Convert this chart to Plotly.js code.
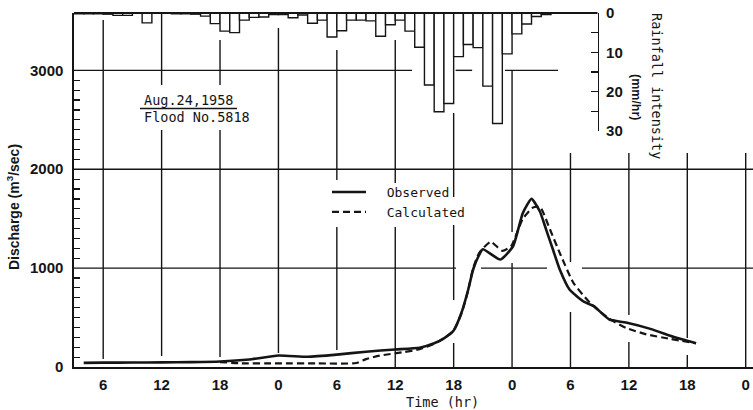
<!DOCTYPE html>
<html>
<head>
<meta charset="utf-8">
<script src="https://cdn.plot.ly/plotly-3.0.1.min.js"></script>
<style>html,body{margin:0;padding:0;background:#fff;}</style>
</head>
<body>
<div id="chart" style="width:753px;height:410px;"></div>
<script>
// ---- data (hours counted from 0 h of Aug.23) ----
const xTickHours = [6, 12, 18, 24, 30, 36, 42, 48, 54, 60, 66, 72];
const xTickLabels = ['6', '12', '18', '0', '6', '12', '18', '0', '6', '12', '18', '0'];
const yTickVals = [0, 1000, 2000, 3000];
const rainTickVals = [0, 10, 20, 30];

const rainHourStart = [3, 4, 5, 6, 7, 8, 9, 10, 11, 12, 13, 14, 15, 16, 17, 18, 19, 20, 21, 22, 23, 24, 25, 26, 27,
  28, 29, 30, 31, 32, 33, 34, 35, 36, 37, 38, 39, 40, 41, 42, 43, 44, 45, 46, 47, 48, 49, 50, 51];
const rainMm = [0.2, 0.2, 0.2, 0.3, 0.6, 0.6, 0.0, 2.5, 0.0, 0.0, 0.2, 0.2, 0.3, 0.8, 2.7, 4.6, 5.0, 1.8, 1.1, 1.0, 0.4, 0.4, 1.2, 0.5, 2.6,
  1.8, 6.1, 4.5, 1.8, 1.8, 2.0, 5.9, 3.0, 1.8, 4.6, 8.7, 18.3, 25.1, 23.0, 11.1, 8.0, 8.8, 18.6, 28.1, 10.4, 5.3, 2.8, 0.9, 0.4];

const obsHours = [4, 6, 9, 12, 15, 18, 21, 24, 27, 30, 33, 36, 38.5, 40, 41, 42, 42.8, 43.5, 44, 44.6, 45.0, 46.8, 48.1,
  49.1, 50.0, 50.85, 51.5, 52.2, 52.9, 53.9, 55.3, 56.4, 58, 59.7, 62.3, 64.7, 66.9];
const obsQ = [42, 44, 45, 47, 49, 55, 75, 116, 103, 125, 155, 177, 195, 240, 290, 369, 548, 784, 986, 1130, 1190, 1087, 1221,
  1555, 1700, 1575, 1390, 1188, 986, 784, 665, 615, 480, 450, 383, 300, 240];

const calHours = [18, 20, 24, 28, 32, 33, 34.4, 36.8, 38.5, 40, 41, 42, 42.8, 43.5, 44, 44.6, 45.8, 47.0, 47.9, 49.1,
  50.2, 50.9, 51.9, 53.0, 54.3, 56.0, 58.0, 59.7, 61.8, 64.2, 66.9];
const calQ = [50, 38, 37, 36, 40, 80, 115, 150, 180, 235, 290, 369, 540, 780, 1000, 1150, 1266, 1175, 1221, 1498,
  1616, 1615, 1390, 1130, 851, 649, 487, 396, 330, 285, 240];

// ---- layout helpers ----
const W = 753, H = 410, ML = 74, MR = 0, MT = 13, MB = 43;
const PW = W - ML - MR, PH = H - MT - MB;
const px = x => (x - ML) / PW;
const py = y => (H - MB - y) / PH;

const ink = '#151515';
const mono = 'DejaVu Sans Mono, Liberation Mono, monospace';
const sans = 'Liberation Sans, Arial, sans-serif';
const nb = '\u00a0\u00a0';

// broken grid lines, as in the original drawing: [value, from, to]
const gridH = [[3000, 3, 37.72], [3000, 42.2, 43.9], [3000, 47.27, 52.72], [2000, 3, 72.75],
  [1000, 3, 42.24], [1000, 44.81, 51.59], [1000, 55.18, 72.75]];
const gridV = [[6, 81, 3509], [12, 2852, 3580], [12, 111, 2397], [18, 2852, 3307], [18, 101, 2397], [24, 142, 3428],
  [30, 1891, 3206], [30, 172, 1416],
  [36, 1861, 3307], [36, 0, 1416], [42, 1719, 2569], [42, 678, 1436], [42, 0, 243], [48, 1365, 3003], [48, 0, 1052],
  [54, 1062, 2164], [54, 0, 556], [60, 526, 2164], [60, 0, 253], [66, 293, 2164], [66, 0, 121], [72, 0, 2164]];

const shapes = [];
gridH.forEach(g => shapes.push({type: 'line', xref: 'x', yref: 'y', x0: g[1], x1: g[2], y0: g[0], y1: g[0],
  line: {color: ink, width: 1.4}, layer: 'below'}));
gridV.forEach(g => shapes.push({type: 'line', xref: 'x', yref: 'y', x0: g[0], x1: g[0], y0: g[1], y1: g[2],
  line: {color: ink, width: 1.4}, layer: 'below'}));
// top border of the rainfall panel
shapes.push({type: 'line', xref: 'paper', yref: 'paper', x0: 0, x1: px(597.5), y0: 1, y1: 1, line: {color: ink, width: 2}});
// fraction bar of the date label
shapes.push({type: 'line', xref: 'paper', yref: 'paper', x0: px(140), x1: px(237), y0: py(108.5), y1: py(108.5),
  line: {color: ink, width: 1.3}});

const minorY = [];
for (let v = 100; v < 3000; v += 100) if (v % 1000 !== 0) minorY.push(v);

const traces = [
  {type: 'bar', x: rainHourStart, y: rainMm, xaxis: 'x', yaxis: 'y2', width: 1, offset: 0,
   marker: {color: '#ffffff', line: {color: ink, width: 1.4}}, showlegend: false, hoverinfo: 'skip'},
  {type: 'scatter', mode: 'lines', name: nb + 'Observed', x: obsHours, y: obsQ,
   line: {color: ink, width: 2.6, shape: 'spline', smoothing: 0.5}},
  {type: 'scatter', mode: 'lines', name: nb + 'Calculated', x: calHours, y: calQ,
   line: {color: ink, width: 2.2, dash: '7px,4px', shape: 'spline', smoothing: 0.5}}
];

const ann = (text, x, y, opts) => Object.assign({text: text, xref: 'paper', yref: 'paper', x: px(x), y: py(y),
  xanchor: 'center', yanchor: 'middle', showarrow: false}, opts);

const layout = {
  width: W, height: H,
  margin: {l: ML, r: MR, t: MT, b: MB, pad: 0},
  paper_bgcolor: '#ffffff', plot_bgcolor: 'rgba(0,0,0,0)',
  showlegend: true,
  legend: {x: px(327), y: py(177), xanchor: 'left', yanchor: 'top', bgcolor: 'rgba(0,0,0,0)',
    font: {family: mono, size: 13, color: ink}, itemwidth: 34, tracegroupgap: 0},
  xaxis: {range: [3, 72.75], tickmode: 'array', tickvals: xTickHours, ticktext: xTickLabels,
    showgrid: false, zeroline: false, showline: true, linecolor: ink, linewidth: 1.6, ticks: '',
    ticklabelstandoff: 3, tickfont: {family: sans, size: 15, color: ink, weight: 'bold'}},
  yaxis: {range: [0, 3580], tickmode: 'array', tickvals: yTickVals, showgrid: false, zeroline: false,
    showline: true, linecolor: ink, linewidth: 1.6, ticks: '', ticklabelstandoff: 6,
    tickfont: {family: sans, size: 15, color: ink, weight: 'bold'},
    minor: {tickmode: 'array', tickvals: minorY, ticks: 'inside', ticklen: 6, tickwidth: 1.2, tickcolor: ink, showgrid: false}},
  yaxis2: {domain: [py(131), 1], range: [30, 0], anchor: 'free', position: px(597.5), side: 'right',
    showgrid: false, zeroline: false, showline: true, linecolor: ink, linewidth: 1.6,
    tickmode: 'array', tickvals: rainTickVals, ticks: 'inside', ticklen: 7, tickwidth: 1.2, tickcolor: ink,
    ticklabelstandoff: 4, tickfont: {family: sans, size: 15, color: ink, weight: 'bold'},
    minor: {tickmode: 'array', tickvals: [5, 15, 25], ticks: 'inside', ticklen: 7, tickwidth: 1.2, tickcolor: ink}},
  bargap: 0,
  shapes: shapes,
  annotations: [
    ann('Discharge (m<sup>3</sup>/sec)', 13, 207, {textangle: -90, font: {family: sans, size: 14, color: ink, weight: 'bold'}}),
    ann('Time (hr)', 442.5, 401.5, {font: {family: mono, size: 13.5, color: ink}}),
    ann('Rainfall intensity', 657, 86, {textangle: 90, font: {family: mono, size: 13.5, color: ink}}),
    ann('(mm/hr)', 636.5, 97.5, {textangle: 90, font: {family: sans, size: 12.5, color: ink, weight: 'bold'}}),
    ann('Aug.24,1958', 142, 100, {xanchor: 'left', font: {family: mono, size: 13.5, color: ink}}),
    ann('Flood No.5818', 142, 117, {xanchor: 'left', font: {family: mono, size: 13.5, color: ink}})
  ]
};

Plotly.newPlot('chart', traces, layout, {staticPlot: true, displayModeBar: false});
</script>
</body>
</html>
